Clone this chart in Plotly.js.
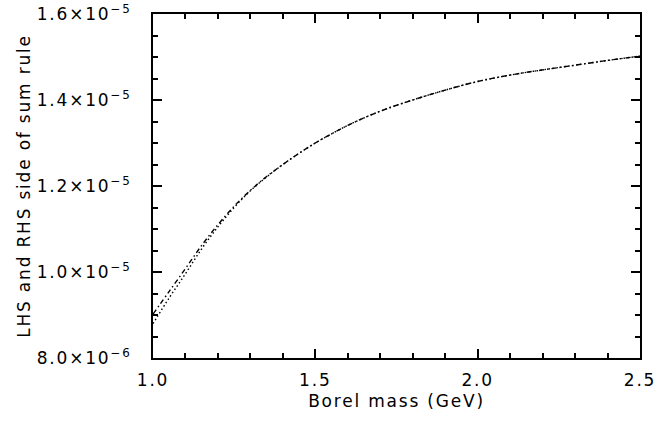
<!DOCTYPE html>
<html>
<head>
<meta charset="utf-8">
<script src="https://cdn.plot.ly/plotly-3.0.1.min.js"></script>
<style>
html,body{margin:0;padding:0;background:#fff;}
#chart{width:672px;height:422px;}
svg text{letter-spacing:1.8px;}
</style>
</head>
<body>
<div id="chart"></div>
<script>
// Borel mass (GeV)
const borelMass = [1.00, 1.05, 1.10, 1.15, 1.20, 1.25, 1.30, 1.35, 1.40, 1.45, 1.50, 1.60, 1.70, 1.80, 1.90, 2.00, 2.10, 2.20, 2.30, 2.40, 2.50];
// LHS of sum rule (dash-dot curve)
const lhsValues = [0.902e-5, 0.955e-5, 1.008e-5, 1.062e-5, 1.110e-5, 1.153e-5, 1.190e-5, 1.222e-5, 1.250e-5, 1.276e-5, 1.300e-5, 1.341e-5, 1.374e-5, 1.400e-5, 1.423e-5, 1.443e-5, 1.458e-5, 1.470e-5, 1.481e-5, 1.492e-5, 1.502e-5];
// RHS of sum rule (dotted curve)
const rhsValues = [0.880e-5, 0.940e-5, 0.996e-5, 1.054e-5, 1.105e-5, 1.150e-5, 1.189e-5, 1.221e-5, 1.250e-5, 1.276e-5, 1.300e-5, 1.341e-5, 1.374e-5, 1.400e-5, 1.423e-5, 1.443e-5, 1.458e-5, 1.470e-5, 1.481e-5, 1.492e-5, 1.502e-5];

const yTickVals = [0.8e-5, 1.0e-5, 1.2e-5, 1.4e-5, 1.6e-5];
const yTickText = ['8.0×10<sup>−6</sup>', '1.0×10<sup>−5</sup>', '1.2×10<sup>−5</sup>', '1.4×10<sup>−5</sup>', '1.6×10<sup>−5</sup>'];
const xTickVals = [1.0, 1.5, 2.0, 2.5];
const xTickText = ['1.0', '1.5', '2.0', '2.5'];

const fontFam = 'DejaVu Sans, Liberation Sans, Arial, sans-serif';

const traces = [
  {x: borelMass, y: lhsValues, mode: 'lines', line: {color: '#000', width: 1.4, dash: '5px,3px,1.5px,3px', shape: 'spline'}, hoverinfo: 'skip'},
  {x: borelMass, y: rhsValues, mode: 'lines', line: {color: '#000', width: 1.4, dash: '1.5px,2.5px', shape: 'spline'}, hoverinfo: 'skip'}
];

const axisCommon = {
  showgrid: false, zeroline: false,
  showline: true, linecolor: '#000', linewidth: 2,
  mirror: 'allticks',
  ticks: 'inside', ticklen: 9, tickwidth: 2, tickcolor: '#000',
  tickfont: {family: fontFam, size: 17, color: '#000'}
};

const layout = {
  width: 672, height: 422,
  margin: {l: 153, r: 32, t: 14, b: 64},
  paper_bgcolor: '#fff', plot_bgcolor: '#fff',
  showlegend: false,
  font: {family: fontFam, color: '#000'},
  xaxis: Object.assign({}, axisCommon, {
    range: [1.0, 2.5],
    tickmode: 'array', tickvals: xTickVals, ticktext: xTickText,
    ticklabelstandoff: 6,
    minor: {tickmode: 'linear', tick0: 1.0, dtick: 0.1, ticks: 'inside', ticklen: 5, tickwidth: 2, tickcolor: '#000'},
    title: {text: 'Borel mass (GeV)', font: {family: fontFam, size: 17, color: '#000'}, standoff: 6}
  }),
  yaxis: Object.assign({}, axisCommon, {
    range: [0.8e-5, 1.6e-5],
    tickmode: 'array', tickvals: yTickVals, ticktext: yTickText,
    ticklabelstandoff: 16,
    minor: {tickmode: 'linear', tick0: 0.8e-5, dtick: 0.05e-5, ticks: 'inside', ticklen: 5, tickwidth: 2, tickcolor: '#000'},
    title: {text: 'LHS and RHS side of sum rule', font: {family: fontFam, size: 17, color: '#000'}, standoff: 2}
  })
};

Plotly.newPlot('chart', traces, layout, {staticPlot: true, displayModeBar: false});
</script>
</body>
</html>
